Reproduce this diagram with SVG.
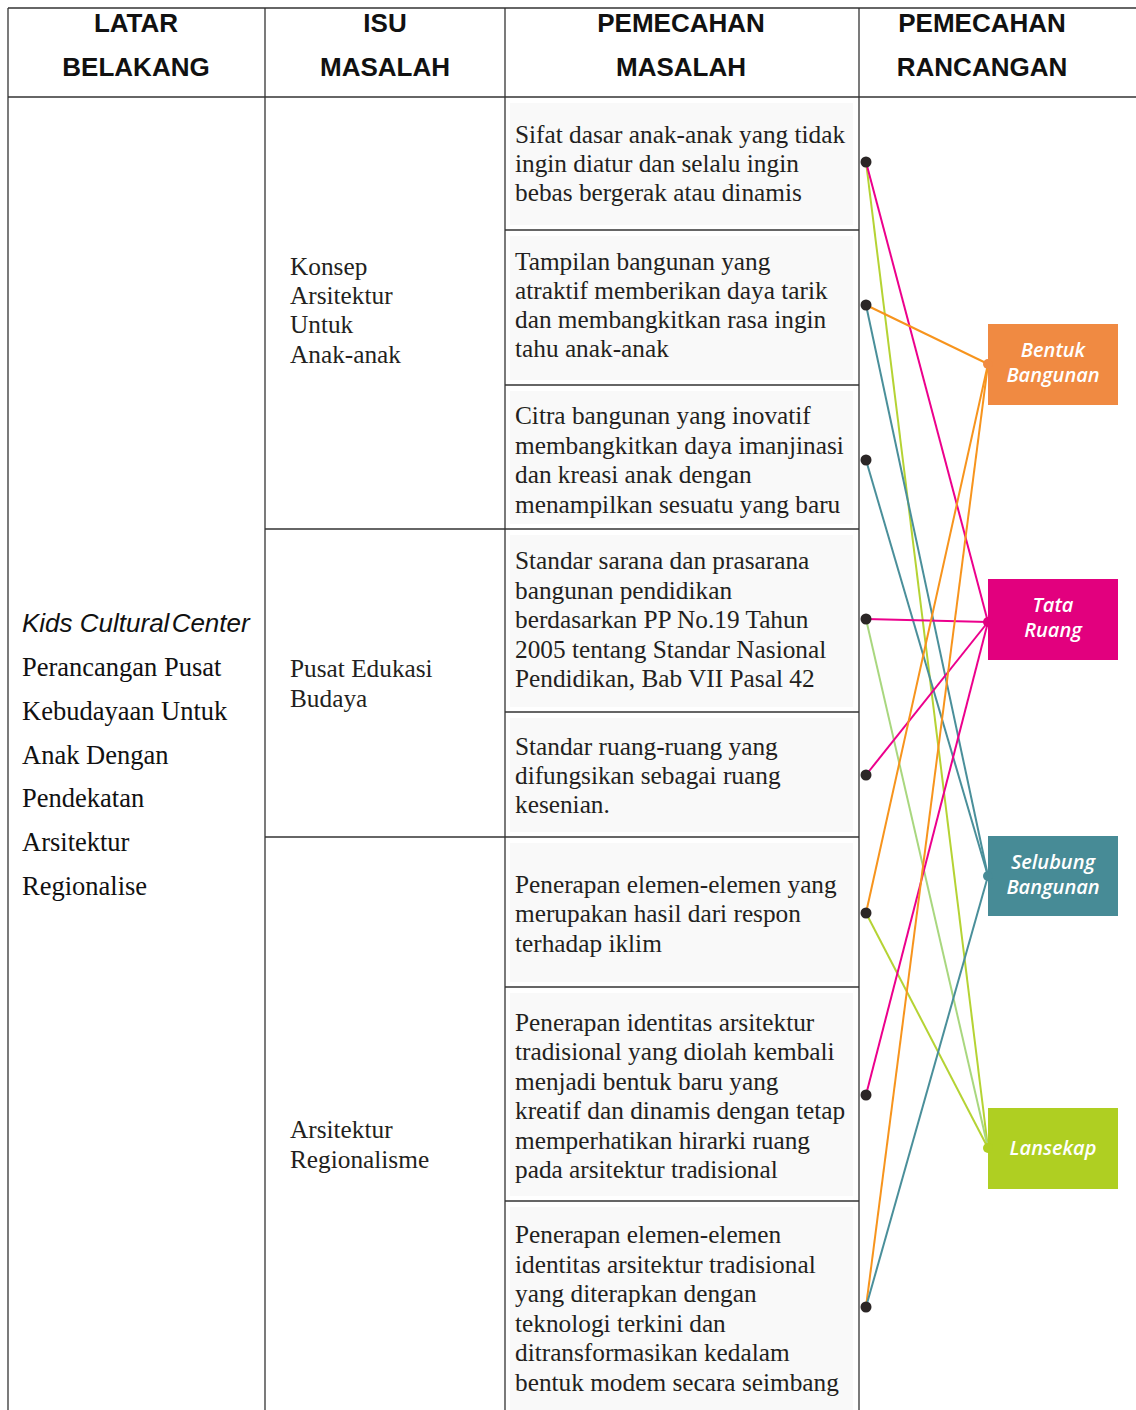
<svg xmlns="http://www.w3.org/2000/svg" width="1136" height="1410" viewBox="0 0 1136 1410">
<style>
.hd{font-family:"Liberation Sans",Arial,sans-serif;font-weight:bold;font-size:26px;fill:#111;text-anchor:middle}
.sf{font-family:"Liberation Serif","Times New Roman",serif;font-size:25.3px;fill:#231f20}
.sf1{font-family:"Liberation Serif","Times New Roman",serif;font-size:26.5px;fill:#111}
.it{font-family:"Liberation Sans",Arial,sans-serif;font-style:italic;font-size:26px;fill:#111}
.bx{font-family:"Open Sans","DejaVu Sans",sans-serif;font-style:italic;font-weight:600;font-size:20px;fill:#fff;text-anchor:middle}
.grid{stroke:#333;stroke-width:1.3;fill:none}
.cell{fill:#f9f9f9}
.dot{fill:#2b2626}
.ln{fill:none;stroke-width:2}
</style>
<rect width="1136" height="1410" fill="#fff"/>
<g id="cell-bg">
<rect class="cell" x="510" y="103" width="343" height="122"/>
<rect class="cell" x="510" y="236" width="343" height="144"/>
<rect class="cell" x="510" y="391" width="343" height="133"/>
<rect class="cell" x="510" y="535" width="343" height="172"/>
<rect class="cell" x="510" y="718" width="343" height="114"/>
<rect class="cell" x="510" y="843" width="343" height="139"/>
<rect class="cell" x="510" y="993" width="343" height="203"/>
<rect class="cell" x="510" y="1207" width="343" height="203"/>
</g>
<g id="grid" class="grid">
<line x1="8" y1="8" x2="1136" y2="8"/>
<line x1="8" y1="97" x2="1136" y2="97"/>
<line x1="8" y1="8" x2="8" y2="1410"/>
<line x1="265" y1="8" x2="265" y2="1410"/>
<line x1="505" y1="8" x2="505" y2="1410"/>
<line x1="859" y1="8" x2="859" y2="1410"/>
<line x1="265" y1="529" x2="505" y2="529"/>
<line x1="265" y1="837" x2="505" y2="837"/>
<line x1="505" y1="230" x2="859" y2="230"/>
<line x1="505" y1="385" x2="859" y2="385"/>
<line x1="505" y1="529" x2="859" y2="529"/>
<line x1="505" y1="712" x2="859" y2="712"/>
<line x1="505" y1="837" x2="859" y2="837"/>
<line x1="505" y1="987" x2="859" y2="987"/>
<line x1="505" y1="1201" x2="859" y2="1201"/>
</g>
<g id="header">
<text class="hd" x="136" y="32">LATAR</text>
<text class="hd" x="136" y="76">BELAKANG</text>
<text class="hd" x="385" y="32">ISU</text>
<text class="hd" x="385" y="76">MASALAH</text>
<text class="hd" x="681" y="32">PEMECAHAN</text>
<text class="hd" x="681" y="76">MASALAH</text>
<text class="hd" x="982" y="32">PEMECAHAN</text>
<text class="hd" x="982" y="76">RANCANGAN</text>
</g>
<g id="latar-belakang">
<text class="it" x="22" y="632">Kids Cultural<tspan dx="-5"> Center</tspan></text>
<text class="sf1" x="22" y="676">Perancangan Pusat</text>
<text class="sf1" x="22" y="720">Kebudayaan Untuk</text>
<text class="sf1" x="22" y="764">Anak Dengan</text>
<text class="sf1" x="22" y="807">Pendekatan</text>
<text class="sf1" x="22" y="851">Arsitektur</text>
<text class="sf1" x="22" y="895">Regionalise</text>
</g>
<g id="isu-1">
<text class="sf" x="290" y="275">Konsep</text>
<text class="sf" x="290" y="304">Arsitektur</text>
<text class="sf" x="290" y="333">Untuk</text>
<text class="sf" x="290" y="363">Anak-anak</text>
</g>
<g id="isu-2">
<text class="sf" x="290" y="677">Pusat Edukasi</text>
<text class="sf" x="290" y="707">Budaya</text>
</g>
<g id="isu-3">
<text class="sf" x="290" y="1138">Arsitektur</text>
<text class="sf" x="290" y="1168">Regionalisme</text>
</g>
<g id="pm-1">
<text class="sf" x="515" y="143">Sifat dasar anak-anak yang tidak</text>
<text class="sf" x="515" y="172">ingin diatur dan selalu ingin</text>
<text class="sf" x="515" y="201">bebas bergerak atau dinamis</text>
</g>
<g id="pm-2">
<text class="sf" x="515" y="270">Tampilan bangunan yang</text>
<text class="sf" x="515" y="299">atraktif memberikan daya tarik</text>
<text class="sf" x="515" y="328">dan membangkitkan rasa ingin</text>
<text class="sf" x="515" y="357">tahu anak-anak</text>
</g>
<g id="pm-3">
<text class="sf" x="515" y="424">Citra bangunan yang inovatif</text>
<text class="sf" x="515" y="454">membangkitkan daya imanjinasi</text>
<text class="sf" x="515" y="483">dan kreasi anak dengan</text>
<text class="sf" x="515" y="513">menampilkan sesuatu yang baru</text>
</g>
<g id="pm-4">
<text class="sf" x="515" y="569">Standar sarana dan prasarana</text>
<text class="sf" x="515" y="599">bangunan pendidikan</text>
<text class="sf" x="515" y="628">berdasarkan PP No.19 Tahun</text>
<text class="sf" x="515" y="658">2005 tentang Standar Nasional</text>
<text class="sf" x="515" y="687">Pendidikan, Bab VII Pasal 42</text>
</g>
<g id="pm-5">
<text class="sf" x="515" y="755">Standar ruang-ruang yang</text>
<text class="sf" x="515" y="784">difungsikan sebagai ruang</text>
<text class="sf" x="515" y="813">kesenian.</text>
</g>
<g id="pm-6">
<text class="sf" x="515" y="893">Penerapan elemen-elemen yang</text>
<text class="sf" x="515" y="922">merupakan hasil dari respon</text>
<text class="sf" x="515" y="952">terhadap iklim</text>
</g>
<g id="pm-7">
<text class="sf" x="515" y="1031">Penerapan identitas arsitektur</text>
<text class="sf" x="515" y="1060">tradisional yang diolah kembali</text>
<text class="sf" x="515" y="1090">menjadi bentuk baru yang</text>
<text class="sf" x="515" y="1119">kreatif dan dinamis dengan tetap</text>
<text class="sf" x="515" y="1149">memperhatikan hirarki ruang</text>
<text class="sf" x="515" y="1178">pada arsitektur tradisional</text>
</g>
<g id="pm-8">
<text class="sf" x="515" y="1243">Penerapan elemen-elemen</text>
<text class="sf" x="515" y="1273">identitas arsitektur tradisional</text>
<text class="sf" x="515" y="1302">yang diterapkan dengan</text>
<text class="sf" x="515" y="1332">teknologi terkini dan</text>
<text class="sf" x="515" y="1361">ditransformasikan kedalam</text>
<text class="sf" x="515" y="1391">bentuk modem secara seimbang</text>
</g>
<g id="connectors">
<line class="ln" stroke="#b5d334" x1="866" y1="162" x2="988" y2="1148"/>
<line class="ln" stroke="#ec008c" x1="866" y1="162" x2="988" y2="622"/>
<line class="ln" stroke="#f7941d" x1="866" y1="305" x2="988" y2="364"/>
<line class="ln" stroke="#4a8f9a" x1="866" y1="305" x2="988" y2="876"/>
<line class="ln" stroke="#4a8f9a" x1="866" y1="460" x2="988" y2="876"/>
<line class="ln" stroke="#ec008c" x1="866" y1="619" x2="988" y2="622"/>
<line class="ln" stroke="#a9d77f" x1="866" y1="619" x2="988" y2="1148"/>
<line class="ln" stroke="#ec008c" x1="866" y1="775" x2="988" y2="622"/>
<line class="ln" stroke="#f7941d" x1="866" y1="913" x2="988" y2="364"/>
<line class="ln" stroke="#b5d334" x1="866" y1="913" x2="988" y2="1148"/>
<line class="ln" stroke="#ec008c" x1="866" y1="1095" x2="988" y2="622"/>
<line class="ln" stroke="#f7941d" x1="866" y1="1307" x2="988" y2="364"/>
<line class="ln" stroke="#4a8f9a" x1="866" y1="1307" x2="988" y2="876"/>
</g>
<g id="dots">
<circle class="dot" cx="866" cy="162" r="5.5"/>
<circle class="dot" cx="866" cy="305" r="5.5"/>
<circle class="dot" cx="866" cy="460" r="5.5"/>
<circle class="dot" cx="866" cy="619" r="5.5"/>
<circle class="dot" cx="866" cy="775" r="5.5"/>
<circle class="dot" cx="866" cy="913" r="5.5"/>
<circle class="dot" cx="866" cy="1095" r="5.5"/>
<circle class="dot" cx="866" cy="1307" r="5.5"/>
</g>
<g id="bentuk-bangunan">
<rect x="988" y="324" width="130" height="81" fill="#f08a42"/>
<circle cx="988" cy="364" r="5" fill="#f08a42"/>
<text class="bx" x="1053" y="357">Bentuk</text>
<text class="bx" x="1053" y="382">Bangunan</text>
</g>
<g id="tata-ruang">
<rect x="988" y="579" width="130" height="81" fill="#e2007e"/>
<circle cx="988" cy="622" r="5" fill="#e2007e"/>
<text class="bx" x="1053" y="612">Tata</text>
<text class="bx" x="1053" y="637">Ruang</text>
</g>
<g id="selubung-bangunan">
<rect x="988" y="836" width="130" height="80" fill="#478b96"/>
<circle cx="988" cy="876" r="5" fill="#478b96"/>
<text class="bx" x="1053" y="869">Selubung</text>
<text class="bx" x="1053" y="894">Bangunan</text>
</g>
<g id="lansekap">
<rect x="988" y="1108" width="130" height="81" fill="#afcf22"/>
<circle cx="988" cy="1148" r="5" fill="#afcf22"/>
<text class="bx" x="1053" y="1155">Lansekap</text>
</g>
</svg>
